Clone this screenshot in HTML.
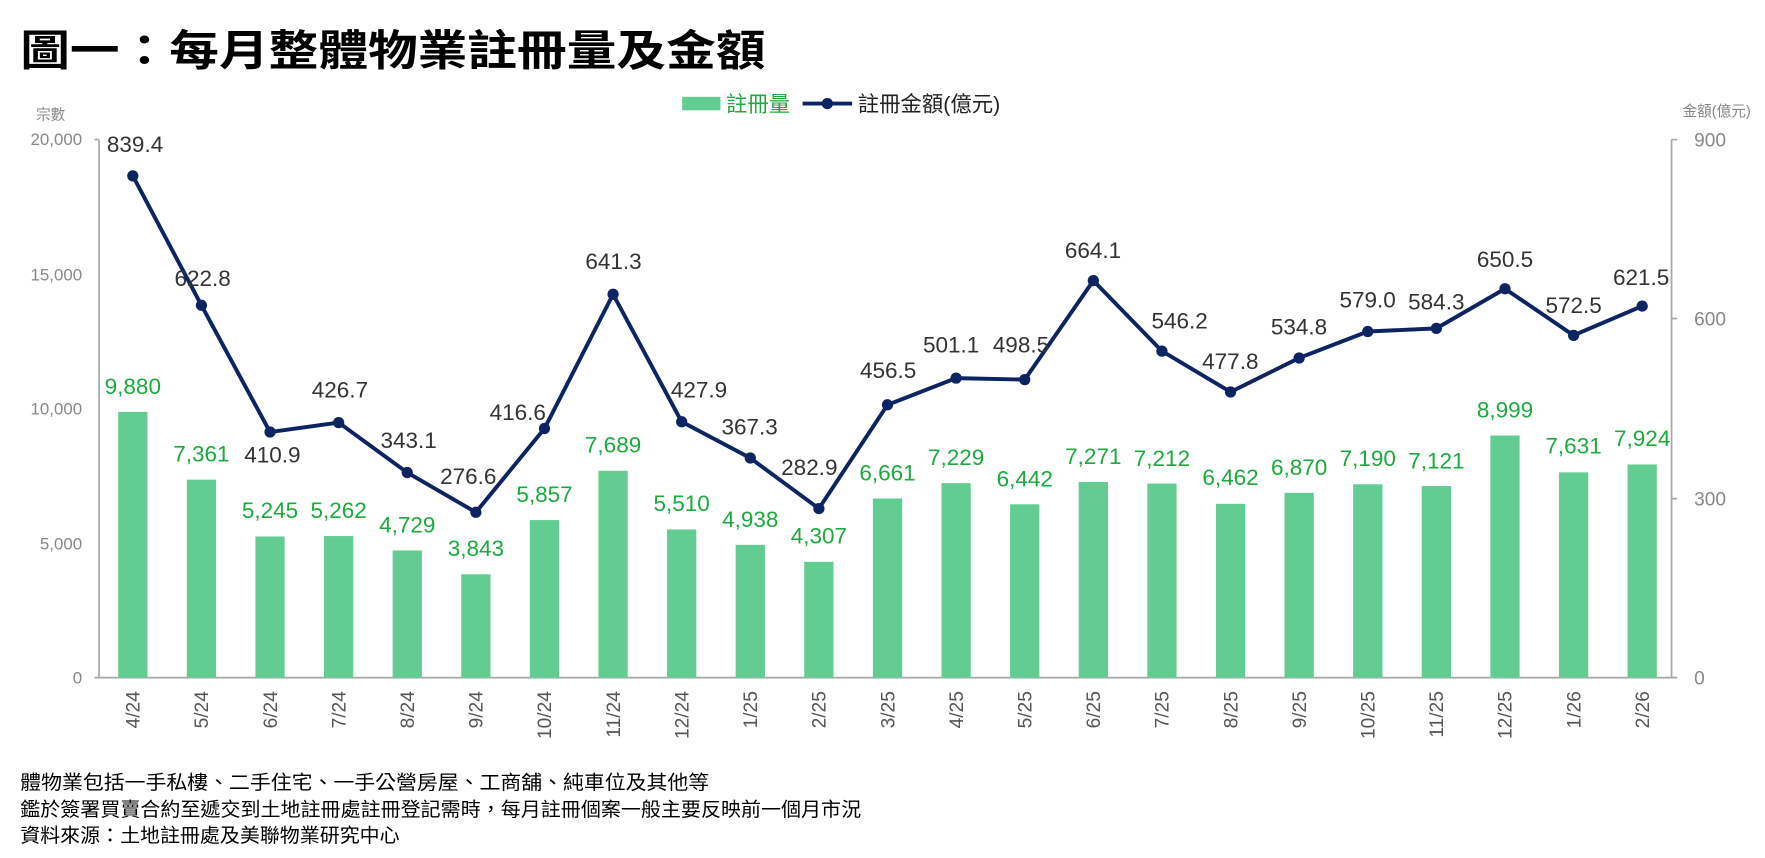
<!DOCTYPE html>
<html><head><meta charset="utf-8"><style>
html,body{margin:0;padding:0;background:#fff;}
svg{display:block;}
text{font-family:"Liberation Sans","Noto Sans CJK TC",sans-serif;}
</style></head><body>
<svg width="1765" height="858" viewBox="0 0 1568 762.2" xmlns="http://www.w3.org/2000/svg">
<rect width="1568" height="762.2" fill="#fff"/>
<text x="18" y="58" font-size="38" font-weight="bold" fill="#000" textLength="662" lengthAdjust="spacingAndGlyphs">圖一：每月整體物業註冊量及金額</text>
<rect x="606" y="86" width="34" height="12" fill="#63cd91"/>
<text x="645" y="99" font-size="19" fill="#1aab3c">註冊量</text>
<line x1="713" y1="92" x2="757" y2="92" stroke="#0d2463" stroke-width="3.5"/>
<circle cx="735" cy="92" r="5" fill="#0d2463"/>
<text x="762" y="99" font-size="19" fill="#222">註冊金額(億元)</text>
<text x="45" y="106" font-size="13" fill="#888" text-anchor="middle">宗數</text>
<text x="1525" y="103" font-size="13" fill="#888" text-anchor="middle">金額(億元)</text>
<g stroke="#a6a6a6" stroke-width="1.5" fill="none">
<line x1="88" y1="124" x2="88" y2="602"/>
<line x1="84" y1="124" x2="88" y2="124"/>
<line x1="84" y1="602" x2="1490" y2="602"/>
<line x1="1485" y1="124" x2="1485" y2="602"/>
<line x1="1485" y1="124" x2="1490" y2="124"/>
<line x1="1485" y1="283" x2="1490" y2="283"/>
<line x1="1485" y1="443" x2="1490" y2="443"/>
</g>
<g font-size="15" fill="#888" text-anchor="end">
<text x="73" y="129">20,000</text><text x="73" y="249">15,000</text><text x="73" y="368">10,000</text><text x="73" y="488">5,000</text><text x="73" y="607">0</text>
</g>
<g font-size="17" fill="#888">
<text x="1505" y="130">900</text><text x="1505" y="289">600</text><text x="1505" y="449">300</text><text x="1505" y="608">0</text>
</g>
<g fill="#63cd91">
<rect x="105" y="365.9" width="26" height="236.1"/>
<rect x="165.95" y="426.1" width="26" height="175.9"/>
<rect x="226.9" y="476.6" width="26" height="125.4"/>
<rect x="287.85" y="476.2" width="26" height="125.8"/>
<rect x="348.8" y="489" width="26" height="113"/>
<rect x="409.75" y="510.2" width="26" height="91.8"/>
<rect x="470.7" y="462" width="26" height="140"/>
<rect x="531.65" y="418.2" width="26" height="183.8"/>
<rect x="592.6" y="470.3" width="26" height="131.7"/>
<rect x="653.55" y="484" width="26" height="118"/>
<rect x="714.5" y="499.1" width="26" height="102.9"/>
<rect x="775.45" y="442.8" width="26" height="159.2"/>
<rect x="836.4" y="429.2" width="26" height="172.8"/>
<rect x="897.35" y="448" width="26" height="154"/>
<rect x="958.3" y="428.2" width="26" height="173.8"/>
<rect x="1019.25" y="429.6" width="26" height="172.4"/>
<rect x="1080.2" y="447.6" width="26" height="154.4"/>
<rect x="1141.15" y="437.8" width="26" height="164.2"/>
<rect x="1202.1" y="430.2" width="26" height="171.8"/>
<rect x="1263.05" y="431.8" width="26" height="170.2"/>
<rect x="1324" y="386.9" width="26" height="215.1"/>
<rect x="1384.95" y="419.6" width="26" height="182.4"/>
<rect x="1445.9" y="412.6" width="26" height="189.4"/>
</g>
<g font-size="20" fill="#1aab3c" text-anchor="middle">
<text x="118" y="350">9,880</text>
<text x="178.95" y="410">7,361</text>
<text x="239.9" y="460">5,245</text>
<text x="300.85" y="460">5,262</text>
<text x="361.8" y="473">4,729</text>
<text x="422.75" y="494">3,843</text>
<text x="483.7" y="446">5,857</text>
<text x="544.65" y="402">7,689</text>
<text x="605.6" y="454">5,510</text>
<text x="666.55" y="468">4,938</text>
<text x="727.5" y="483">4,307</text>
<text x="788.45" y="427">6,661</text>
<text x="849.4" y="413">7,229</text>
<text x="910.35" y="432">6,442</text>
<text x="971.3" y="412">7,271</text>
<text x="1032.25" y="414">7,212</text>
<text x="1093.2" y="431">6,462</text>
<text x="1154.15" y="422">6,870</text>
<text x="1215.1" y="414">7,190</text>
<text x="1276.05" y="416">7,121</text>
<text x="1337" y="371">8,999</text>
<text x="1397.95" y="403">7,631</text>
<text x="1458.9" y="396">7,924</text>
</g>
<g font-size="17" fill="#555" text-anchor="end">
<text transform="translate(124,614) rotate(-90)">4/24</text>
<text transform="translate(184.95,614) rotate(-90)">5/24</text>
<text transform="translate(245.9,614) rotate(-90)">6/24</text>
<text transform="translate(306.85,614) rotate(-90)">7/24</text>
<text transform="translate(367.8,614) rotate(-90)">8/24</text>
<text transform="translate(428.75,614) rotate(-90)">9/24</text>
<text transform="translate(489.7,614) rotate(-90)">10/24</text>
<text transform="translate(550.65,614) rotate(-90)">11/24</text>
<text transform="translate(611.6,614) rotate(-90)">12/24</text>
<text transform="translate(672.55,614) rotate(-90)">1/25</text>
<text transform="translate(733.5,614) rotate(-90)">2/25</text>
<text transform="translate(794.45,614) rotate(-90)">3/25</text>
<text transform="translate(855.4,614) rotate(-90)">4/25</text>
<text transform="translate(916.35,614) rotate(-90)">5/25</text>
<text transform="translate(977.3,614) rotate(-90)">6/25</text>
<text transform="translate(1038.25,614) rotate(-90)">7/25</text>
<text transform="translate(1099.2,614) rotate(-90)">8/25</text>
<text transform="translate(1160.15,614) rotate(-90)">9/25</text>
<text transform="translate(1221.1,614) rotate(-90)">10/25</text>
<text transform="translate(1282.05,614) rotate(-90)">11/25</text>
<text transform="translate(1343,614) rotate(-90)">12/25</text>
<text transform="translate(1403.95,614) rotate(-90)">1/26</text>
<text transform="translate(1464.9,614) rotate(-90)">2/26</text>
</g>
<polyline fill="none" stroke="#0d2463" stroke-width="3.5" stroke-linejoin="round" points="118,156.2 178.95,271.2 239.9,383.8 300.85,375.4 361.8,419.8 422.75,455.1 483.7,380.7 544.65,261.4 605.6,374.7 666.55,406.9 727.5,451.8 788.45,359.6 849.4,335.9 910.35,337.2 971.3,249.3 1032.25,311.9 1093.2,348.2 1154.15,318 1215.1,294.5 1276.05,291.7 1337,256.5 1397.95,297.9 1458.9,271.9"/>
<g fill="#0d2463">
<circle cx="118" cy="156.2" r="5"/><circle cx="178.95" cy="271.2" r="5"/><circle cx="239.9" cy="383.8" r="5"/><circle cx="300.85" cy="375.4" r="5"/><circle cx="361.8" cy="419.8" r="5"/><circle cx="422.75" cy="455.1" r="5"/><circle cx="483.7" cy="380.7" r="5"/><circle cx="544.65" cy="261.4" r="5"/><circle cx="605.6" cy="374.7" r="5"/><circle cx="666.55" cy="406.9" r="5"/><circle cx="727.5" cy="451.8" r="5"/><circle cx="788.45" cy="359.6" r="5"/><circle cx="849.4" cy="335.9" r="5"/><circle cx="910.35" cy="337.2" r="5"/><circle cx="971.3" cy="249.3" r="5"/><circle cx="1032.25" cy="311.9" r="5"/><circle cx="1093.2" cy="348.2" r="5"/><circle cx="1154.15" cy="318" r="5"/><circle cx="1215.1" cy="294.5" r="5"/><circle cx="1276.05" cy="291.7" r="5"/><circle cx="1337" cy="256.5" r="5"/><circle cx="1397.95" cy="297.9" r="5"/><circle cx="1458.9" cy="271.9" r="5"/>
</g>
<g font-size="20" fill="#333" text-anchor="middle">
<text x="120" y="135">839.4</text>
<text x="180" y="254">622.8</text>
<text x="242" y="411">410.9</text>
<text x="302" y="353">426.7</text>
<text x="363" y="398">343.1</text>
<text x="416" y="430">276.6</text>
<text x="460" y="373">416.6</text>
<text x="545" y="239">641.3</text>
<text x="621" y="353">427.9</text>
<text x="666" y="386">367.3</text>
<text x="719" y="422">282.9</text>
<text x="789" y="336">456.5</text>
<text x="845" y="313">501.1</text>
<text x="907" y="313">498.5</text>
<text x="971" y="229">664.1</text>
<text x="1048" y="292">546.2</text>
<text x="1093" y="328">477.8</text>
<text x="1154" y="297">534.8</text>
<text x="1215" y="273">579.0</text>
<text x="1276" y="275">584.3</text>
<text x="1337" y="237">650.5</text>
<text x="1398" y="278">572.5</text>
<text x="1458" y="253">621.5</text>
</g>
<g font-size="17" fill="#000">
<text x="18" y="701" textLength="612" lengthAdjust="spacingAndGlyphs">體物業包括一手私樓、二手住宅、一手公營房屋、工商舖、純車位及其他等</text>
<text x="18" y="725" textLength="747" lengthAdjust="spacingAndGlyphs">鑑於簽署買賣合約至遞交到土地註冊處註冊登記需時，每月註冊個案一般主要反映前一個月市況</text>
<text x="18" y="748" textLength="337" lengthAdjust="spacingAndGlyphs">資料來源：土地註冊處及美聯物業研究中心</text>
</g>
</svg>
</body></html>
